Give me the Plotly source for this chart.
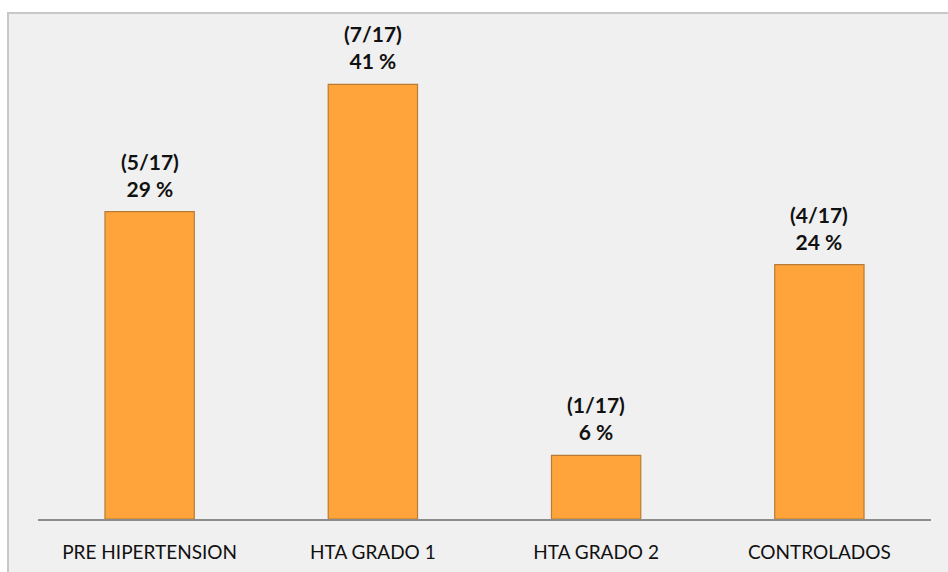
import plotly.graph_objects as go

# Distribution of patients by blood pressure category (n = 17)
categories = ["PRE HIPERTENSION", "HTA GRADO 1", "HTA GRADO 2", "CONTROLADOS"]
counts = [5, 7, 1, 4]
total = 17
percents = [29, 41, 6, 24]
labels = [f"({c}/{total})<br>{p} %" for c, p in zip(counts, percents)]

W, H = 948, 572
m_l, m_r, m_t, m_b = 38, 17, 42, 53
plot_w = W - m_l - m_r
plot_h = H - m_t - m_b

def px_x(x):
    return (x - m_l) / plot_w

def px_y(y):
    return (H - m_b - y) / plot_h

FONT = "Lato, Open Sans, sans-serif"

fig = go.Figure()
fig.add_trace(go.Bar(
    x=categories,
    y=percents,
    width=0.4,
    marker=dict(color="#FFA43A", line=dict(color="#B87B35", width=1.2)),
    hoverinfo="skip",
))

# Value labels above each bar
for cat, pct, lab in zip(categories, percents, labels):
    fig.add_annotation(
        x=cat, y=pct, xref="x", yref="y",
        text=lab, showarrow=False,
        yanchor="bottom", yshift=9,
        font=dict(family=FONT, size=21, color="#111111", weight="bold"),
    )

# Chart-area panel with its thin grey frame
fig.add_shape(
    type="rect", xref="paper", yref="paper", layer="below",
    x0=px_x(8), x1=px_x(960), y0=px_y(590), y1=px_y(13),
    fillcolor="#F0F0F0", line=dict(color="#C8C8C8", width=2),
)

fig.update_layout(
    width=W, height=H,
    margin=dict(l=m_l, r=m_r, t=m_t, b=m_b),
    paper_bgcolor="white",
    plot_bgcolor="rgba(0,0,0,0)",
    showlegend=False,
    font=dict(family=FONT, size=19, color="#111111"),
    xaxis=dict(
        showline=True, linecolor="#8C8C8C", linewidth=1.5,
        ticks="", showgrid=False, ticklabelstandoff=15, automargin=False,
        tickfont=dict(family=FONT, size=19, color="#111111"),
    ),
    yaxis=dict(range=[0, 45], visible=False, showgrid=False, automargin=False),
)

fig.write_html("out.html")
